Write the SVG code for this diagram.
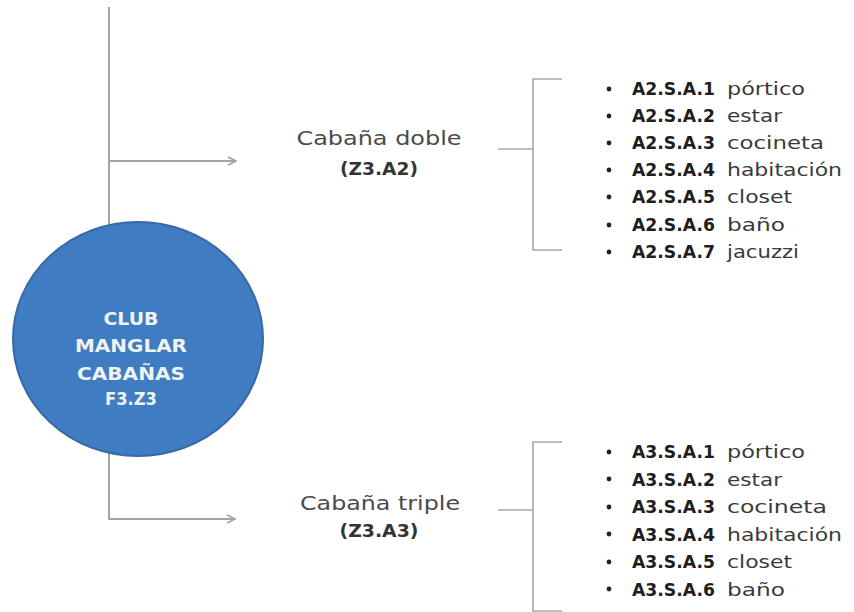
<svg xmlns="http://www.w3.org/2000/svg" width="854" height="612" viewBox="0 0 854 612">
<defs>
<style>
.conn{fill:none;stroke:#a3a3a3;stroke-width:2}
.brk{fill:none;stroke:#a8a8a8;stroke-width:1.6}
.lbl{font-family:"DejaVu Sans","Liberation Sans",sans-serif;font-size:20px;fill:#4a4a4a;text-anchor:middle}
.lblb{font-family:"DejaVu Sans","Liberation Sans",sans-serif;font-size:18px;font-weight:bold;fill:#333;text-anchor:middle}
.ctr{font-family:"DejaVu Sans","Liberation Sans",sans-serif;font-size:18px;font-weight:bold;fill:#eef4f4;text-anchor:middle}
.it{font-family:"DejaVu Sans","Liberation Sans",sans-serif;font-size:18px;fill:#3a3a3a}
.itb{font-weight:bold;fill:#1e1e1e}
.bul{fill:#222}
</style>
<marker id="arr" viewBox="0 0 10 10" refX="9" refY="5" markerWidth="10" markerHeight="10" markerUnits="userSpaceOnUse" orient="auto">
<path d="M1,1 L9,5 L1,9" fill="none" stroke="#a3a3a3" stroke-width="1.6"/>
</marker>
</defs>
<rect width="854" height="612" fill="#ffffff"/>
<g id="connectors">
<path class="conn" d="M109,7 V519 H235" marker-end="url(#arr)"/>
<path class="conn" d="M109,161 H236" marker-end="url(#arr)"/>
<path class="brk" d="M498,149 H533 M562,79 H533 V250 H562"/>
<path class="brk" d="M498,510 H533 M562,442 H533 V611 H562"/>
</g>
<g id="club">
<ellipse cx="138" cy="339" rx="125" ry="117" fill="#3f7cc1" stroke="#3769a6" stroke-width="2"/>
<text class="ctr" x="131" y="325" textLength="55" lengthAdjust="spacingAndGlyphs">CLUB</text>
<text class="ctr" x="131" y="352" textLength="112" lengthAdjust="spacingAndGlyphs">MANGLAR</text>
<text class="ctr" x="131" y="380" textLength="108" lengthAdjust="spacingAndGlyphs">CABAÑAS</text>
<text class="ctr" x="131" y="405" textLength="52" lengthAdjust="spacingAndGlyphs">F3.Z3</text>
</g>
<g id="cabana-doble">
<text class="lbl" x="379" y="145" textLength="165" lengthAdjust="spacingAndGlyphs">Cabaña doble</text>
<text class="lblb" x="379" y="175" textLength="78" lengthAdjust="spacingAndGlyphs">(Z3.A2)</text>
</g>
<g id="cabana-triple">
<text class="lbl" x="380" y="510" textLength="160" lengthAdjust="spacingAndGlyphs">Cabaña triple</text>
<text class="lblb" x="379" y="537" textLength="79" lengthAdjust="spacingAndGlyphs">(Z3.A3)</text>
</g>
<g id="list-a2">
<circle class="bul" cx="609" cy="89" r="2.4"/>
<circle class="bul" cx="609" cy="116" r="2.4"/>
<circle class="bul" cx="609" cy="143" r="2.4"/>
<circle class="bul" cx="609" cy="170" r="2.4"/>
<circle class="bul" cx="609" cy="197" r="2.4"/>
<circle class="bul" cx="609" cy="225" r="2.4"/>
<circle class="bul" cx="609" cy="252" r="2.4"/>
<text class="it" y="95"><tspan class="itb" x="632" textLength="83" lengthAdjust="spacingAndGlyphs">A2.S.A.1</tspan><tspan x="727" textLength="78" lengthAdjust="spacingAndGlyphs">pórtico</tspan></text>
<text class="it" y="122"><tspan class="itb" x="632" textLength="83" lengthAdjust="spacingAndGlyphs">A2.S.A.2</tspan><tspan x="727" textLength="55" lengthAdjust="spacingAndGlyphs">estar</tspan></text>
<text class="it" y="149"><tspan class="itb" x="632" textLength="83" lengthAdjust="spacingAndGlyphs">A2.S.A.3</tspan><tspan x="727" textLength="97" lengthAdjust="spacingAndGlyphs">cocineta</tspan></text>
<text class="it" y="176"><tspan class="itb" x="632" textLength="83" lengthAdjust="spacingAndGlyphs">A2.S.A.4</tspan><tspan x="727" textLength="115" lengthAdjust="spacingAndGlyphs">habitación</tspan></text>
<text class="it" y="203"><tspan class="itb" x="632" textLength="83" lengthAdjust="spacingAndGlyphs">A2.S.A.5</tspan><tspan x="727" textLength="65" lengthAdjust="spacingAndGlyphs">closet</tspan></text>
<text class="it" y="231"><tspan class="itb" x="632" textLength="83" lengthAdjust="spacingAndGlyphs">A2.S.A.6</tspan><tspan x="727" textLength="58" lengthAdjust="spacingAndGlyphs">baño</tspan></text>
<text class="it" y="258"><tspan class="itb" x="632" textLength="83" lengthAdjust="spacingAndGlyphs">A2.S.A.7</tspan><tspan x="727" textLength="72" lengthAdjust="spacingAndGlyphs">jacuzzi</tspan></text>
</g>
<g id="list-a3">
<circle class="bul" cx="609" cy="452" r="2.4"/>
<circle class="bul" cx="609" cy="479" r="2.4"/>
<circle class="bul" cx="609" cy="507" r="2.4"/>
<circle class="bul" cx="609" cy="534" r="2.4"/>
<circle class="bul" cx="609" cy="562" r="2.4"/>
<circle class="bul" cx="609" cy="589" r="2.4"/>
<text class="it" y="458"><tspan class="itb" x="632" textLength="83" lengthAdjust="spacingAndGlyphs">A3.S.A.1</tspan><tspan x="727" textLength="78" lengthAdjust="spacingAndGlyphs">pórtico</tspan></text>
<text class="it" y="485.5"><tspan class="itb" x="632" textLength="83" lengthAdjust="spacingAndGlyphs">A3.S.A.2</tspan><tspan x="727" textLength="55" lengthAdjust="spacingAndGlyphs">estar</tspan></text>
<text class="it" y="513"><tspan class="itb" x="632" textLength="83" lengthAdjust="spacingAndGlyphs">A3.S.A.3</tspan><tspan x="727" textLength="100" lengthAdjust="spacingAndGlyphs">cocineta</tspan></text>
<text class="it" y="540.5"><tspan class="itb" x="632" textLength="83" lengthAdjust="spacingAndGlyphs">A3.S.A.4</tspan><tspan x="727" textLength="115" lengthAdjust="spacingAndGlyphs">habitación</tspan></text>
<text class="it" y="568"><tspan class="itb" x="632" textLength="83" lengthAdjust="spacingAndGlyphs">A3.S.A.5</tspan><tspan x="727" textLength="65" lengthAdjust="spacingAndGlyphs">closet</tspan></text>
<text class="it" y="595.5"><tspan class="itb" x="632" textLength="83" lengthAdjust="spacingAndGlyphs">A3.S.A.6</tspan><tspan x="727" textLength="58" lengthAdjust="spacingAndGlyphs">baño</tspan></text>
</g>
</svg>
